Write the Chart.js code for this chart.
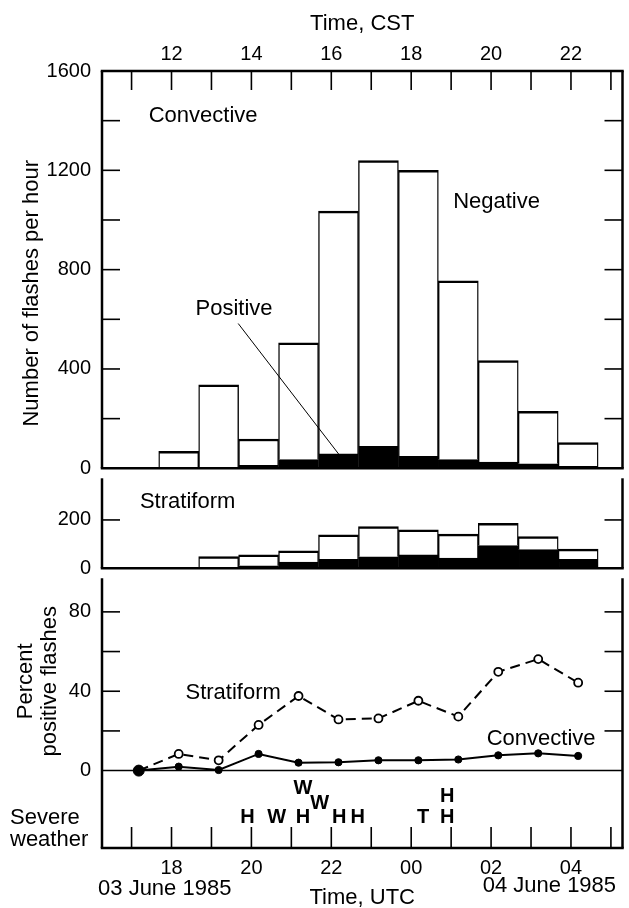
<!DOCTYPE html>
<html lang="en">
<head>
<meta charset="utf-8">
<title>Flashes per hour, 03-04 June 1985</title>
<script src="https://cdn.jsdelivr.net/npm/chart.js@4.4.1/dist/chart.umd.min.js"></script>
<style>
  body { margin: 0; background: #fff; }
  canvas { display: block; }
</style>
</head>
<body>
<canvas id="flashChart" width="629" height="908"></canvas>
<script>
/*global Chart*/

// hours are UTC counted from 00 UTC on 03 June (24 = 00 UTC 04 June)
var barHours = [18.18, 19.18, 20.18, 21.18, 22.18, 23.18, 24.18, 25.18, 26.18, 27.18, 28.18];
var convNegative = [68, 333, 106, 470, 978, 1151, 1152, 720, 409, 211, 96];
var convPositive = [0, 3, 12, 35, 58, 88, 48, 35, 25, 18, 8];
var stratNegative = [0, 46, 45, 47, 101, 125, 104, 99, 92, 54, 42];
var stratPositive = [0, 2, 10, 25, 37, 47, 55, 42, 94, 77, 37];

var percentHours = [17.18, 18.18, 19.18, 20.18, 21.18, 22.18, 23.18, 24.18, 25.18, 26.18, 27.18, 28.18];
var stratPercent = [0, 8.4, 5.2, 23, 37.6, 25.8, 26.3, 35.2, 27.2, 49.8, 56.2, 44.3];
var convPercent = [0, 2, 0.3, 8.4, 4, 4.2, 5.2, 5.2, 5.6, 7.7, 8.7, 7.4];

// severe weather reports: H hail, W wind, T tornado
var severeHours = [19.9, 20.63, 21.29, 21.29, 21.71, 22.2, 22.66, 24.3, 24.9, 24.9];
var severeTypes = ['H', 'W', 'H', 'W', 'W', 'H', 'H', 'T', 'H', 'H'];

// axes
var utcRange = [16.26, 29.29];
var cstOffset = -6;
var utcTicks = [17, 18, 19, 20, 21, 22, 23, 24, 25, 26, 27, 28, 29];
var utcLabels = ['', '18', '', '20', '', '22', '', '00', '', '02', '', '04', ''];
var cstTicks = [11, 12, 13, 14, 15, 16, 17, 18, 19, 20, 21, 22, 23];
var cstLabels = ['', '12', '', '14', '', '16', '', '18', '', '20', '', '22', ''];
var convTicks = [0, 200, 400, 600, 800, 1000, 1200, 1400, 1600];
var convLabels = ['0', '', '400', '', '800', '', '1200', '', '1600'];
var stratTicks = [0, 200];
var stratLabels = ['0', '200'];
var percentTicks = [0, 20, 40, 60, 80];
var percentLabels = ['0', '', '40', '', '80'];

var FONT = "'Liberation Sans', Arial, Helvetica, sans-serif";
Chart.defaults.font.family = FONT;
Chart.defaults.font.size = 20;
Chart.defaults.color = '#000';

function pts(xs, ys) {
    return xs.map(function (x, i) { return { x: x, y: ys[i] }; });
}
function seg(ctx, x1, y1, x2, y2) {
    ctx.beginPath(); ctx.moveTo(x1, y1); ctx.lineTo(x2, y2); ctx.stroke();
}
function fixedTicks(values, labels) {
    return {
        afterBuildTicks: function (sc) {
            sc.ticks = values.map(function (v) { return { value: v }; });
        },
        callback: function (v, i) { return labels[i]; }
    };
}

var hidden = { display: false };
var barEdge = { top: 2.5, left: 1.4, right: 1.4, bottom: 0 };

// stacking offsets (px) for letters reported at the same time
var severeLift = [0, 0, 0, -28.5, -14, 0, 0, 0, 0, -20.5];

var panelNotes = [
    { text: 'Convective', axis: 'y1', x: 17.43, y: 1418 },
    { text: 'Negative', axis: 'y1', x: 25.05, y: 1072 },
    { text: 'Positive', axis: 'y1', x: 18.6, y: 642 },
    { text: 'Stratiform', axis: 'y2', x: 17.21, y: 276 },
    { text: 'Stratiform', axis: 'y3', x: 18.35, y: 39 },
    { text: 'Convective', axis: 'y3', x: 25.89, y: 16 }
];
var positivePointer = { x1: 19.67, y1: 583, x2: 22.32, y2: 29 };

var decorations = {
    id: 'decorations',
    afterDraw: function (chart) {
        var ctx = chart.ctx, a = chart.chartArea, s = chart.scales;
        ctx.save();
        ctx.strokeStyle = '#000';
        ctx.fillStyle = '#000';

        // zero line of the percent panel
        ctx.lineWidth = 1.5;
        var zero = s.y3.getPixelForValue(0);
        seg(ctx, a.left, zero, a.right, zero);

        // tick marks pointing into the panels
        ctx.lineWidth = 1.6;
        s.x.ticks.forEach(function (t) {
            var px = s.x.getPixelForValue(t.value);
            seg(ctx, px, a.bottom, px, a.bottom - 21);
        });
        s.xTop.ticks.forEach(function (t) {
            var px = s.xTop.getPixelForValue(t.value);
            seg(ctx, px, a.top, px, a.top + 19);
        });
        ['y1', 'y2', 'y3'].forEach(function (id) {
            var sc = s[id];
            sc.ticks.forEach(function (t) {
                if (t.value <= 0 || t.value >= sc.max) return;
                var py = sc.getPixelForValue(t.value);
                seg(ctx, a.left, py, a.left + 18, py);
                seg(ctx, a.right - 18, py, a.right, py);
            });
        });

        // frame and panel dividers
        ctx.lineWidth = 2.5;
        [a.top, s.y1.bottom, s.y2.bottom, a.bottom].forEach(function (py) {
            seg(ctx, a.left - 1.25, py, a.right + 1.25, py);
        });
        ['y1', 'y2', 'y3'].forEach(function (id, k) {
            var top = k === 0 ? a.top : s[id].top + 10;
            seg(ctx, a.left, top, a.left, s[id].bottom);
            seg(ctx, a.right, top, a.right, s[id].bottom);
        });

        // panel notes
        ctx.font = '22px ' + FONT;
        ctx.textAlign = 'left';
        ctx.textBaseline = 'middle';
        panelNotes.forEach(function (n) {
            ctx.fillText(n.text, s.x.getPixelForValue(n.x), s[n.axis].getPixelForValue(n.y));
        });
        ctx.lineWidth = 1;
        seg(ctx, s.x.getPixelForValue(positivePointer.x1), s.y1.getPixelForValue(positivePointer.y1),
            s.x.getPixelForValue(positivePointer.x2), s.y1.getPixelForValue(positivePointer.y2));

        // severe weather
        ctx.fillText('Severe', 10, s.y3.getPixelForValue(-24));
        ctx.fillText('weather', 10, s.y3.getPixelForValue(-24) + 22);
        ctx.font = 'bold 20px ' + FONT;
        ctx.textAlign = 'center';
        var base = s.y3.getPixelForValue(-23.4);
        severeHours.forEach(function (h, i) {
            ctx.fillText(severeTypes[i], s.x.getPixelForValue(h), base + severeLift[i]);
        });

        // dates under the UTC axis
        ctx.font = '22px ' + FONT;
        ctx.fillText('03 June 1985', s.x.getPixelForValue(17.83), a.bottom + 41);
        ctx.fillText('04 June 1985', s.x.getPixelForValue(27.46), a.bottom + 38);

        // vertical axis titles
        function vertical(text, x, y) {
            ctx.save();
            ctx.translate(x, y);
            ctx.rotate(-Math.PI / 2);
            ctx.fillText(text, 0, 0);
            ctx.restore();
        }
        vertical('Number of flashes per hour', 32, s.y1.getPixelForValue(705));
        vertical('Percent', 26, s.y3.getPixelForValue(45));
        vertical('positive flashes', 50, s.y3.getPixelForValue(45));
        ctx.restore();
    }
};

var tUtc = fixedTicks(utcTicks, utcLabels);
var tCst = fixedTicks(cstTicks, cstLabels);
var tConv = fixedTicks(convTicks, convLabels);
var tStrat = fixedTicks(stratTicks, stratLabels);
var tPct = fixedTicks(percentTicks, percentLabels);

var flashCanvas = document.getElementById('flashChart');
var flashChart = new Chart(flashCanvas, {
    type: 'bar',
    data: {
        datasets: [{
            label: 'Convective positive',
            data: pts(barHours, convPositive),
            xAxisID: 'x', yAxisID: 'y1',
            backgroundColor: '#000', borderColor: '#000', borderWidth: barEdge,
            barPercentage: 1, categoryPercentage: 1
        }, {
            label: 'Convective negative',
            data: pts(barHours, convNegative),
            xAxisID: 'x', yAxisID: 'y1',
            backgroundColor: '#fff', borderColor: '#000', borderWidth: barEdge,
            barPercentage: 1, categoryPercentage: 1
        }, {
            label: 'Stratiform positive',
            data: pts(barHours, stratPositive),
            xAxisID: 'x', yAxisID: 'y2',
            backgroundColor: '#000', borderColor: '#000', borderWidth: barEdge,
            barPercentage: 1, categoryPercentage: 1
        }, {
            label: 'Stratiform negative',
            data: pts(barHours, stratNegative),
            xAxisID: 'x', yAxisID: 'y2',
            backgroundColor: '#fff', borderColor: '#000', borderWidth: barEdge,
            barPercentage: 1, categoryPercentage: 1
        }, {
            type: 'line',
            label: 'Stratiform percent positive',
            data: pts(percentHours, stratPercent),
            xAxisID: 'x', yAxisID: 'y3',
            borderColor: '#000', borderWidth: 2, borderDash: [10, 6],
            pointRadius: 4, pointBorderWidth: 1.8,
            pointBackgroundColor: '#fff', pointBorderColor: '#000',
            tension: 0, fill: false
        }, {
            type: 'line',
            label: 'Convective percent positive',
            data: pts(percentHours, convPercent),
            xAxisID: 'x', yAxisID: 'y3',
            order: -1,
            borderColor: '#000', borderWidth: 2,
            pointRadius: function (c) { return c.dataIndex === 0 ? 5.5 : 3.6; },
            pointBorderWidth: 1,
            pointBackgroundColor: '#000', pointBorderColor: '#000',
            tension: 0, fill: false
        }]
    },
    options: {
        responsive: false,
        animation: false,
        events: [],
        layout: { padding: { left: 0, right: 2, top: 0, bottom: 0 } },
        plugins: { legend: hidden, tooltip: { enabled: false } },
        scales: {
            x: {
                type: 'linear', position: 'bottom', stacked: true, offset: false,
                min: utcRange[0], max: utcRange[1],
                grid: { display: false, offset: false }, border: hidden,
                afterBuildTicks: tUtc.afterBuildTicks,
                ticks: { autoSkip: false, maxRotation: 0, padding: 0, callback: tUtc.callback },
                title: { display: true, text: 'Time, UTC', font: { size: 22 }, padding: { top: 0, bottom: -3 } },
                afterFit: function (sc) { sc.height = 60; }
            },
            xTop: {
                type: 'linear', position: 'top', offset: false,
                min: utcRange[0] + cstOffset, max: utcRange[1] + cstOffset,
                grid: { display: false, offset: false }, border: hidden,
                afterBuildTicks: tCst.afterBuildTicks,
                ticks: { autoSkip: false, maxRotation: 0, padding: -3, callback: tCst.callback },
                title: { display: true, text: 'Time, CST', font: { size: 22 }, padding: { top: 11, bottom: 0 } },
                afterFit: function (sc) { sc.height = 71; }
            },
            y3: {
                stack: 'panels', stackWeight: 280,
                min: -39, max: 102,
                grid: hidden, border: hidden,
                afterBuildTicks: tPct.afterBuildTicks,
                ticks: { padding: 3, autoSkip: false, callback: tPct.callback },
                afterFit: function (sc) { sc.width = 102; }
            },
            y2: {
                stack: 'panels', stackWeight: 100, stacked: true,
                min: 0, max: 414,
                grid: hidden, border: hidden,
                afterBuildTicks: tStrat.afterBuildTicks,
                ticks: { padding: 3, autoSkip: false, callback: tStrat.callback },
                afterFit: function (sc) { sc.width = 102; }
            },
            y1: {
                stack: 'panels', stackWeight: 397.6, stacked: true,
                min: 0, max: 1600,
                grid: hidden, border: hidden,
                afterBuildTicks: tConv.afterBuildTicks,
                ticks: { padding: 3, autoSkip: false, callback: tConv.callback },
                afterFit: function (sc) { sc.width = 102; }
            }
        }
    },
    plugins: [decorations]
});
</script>
</body>
</html>
